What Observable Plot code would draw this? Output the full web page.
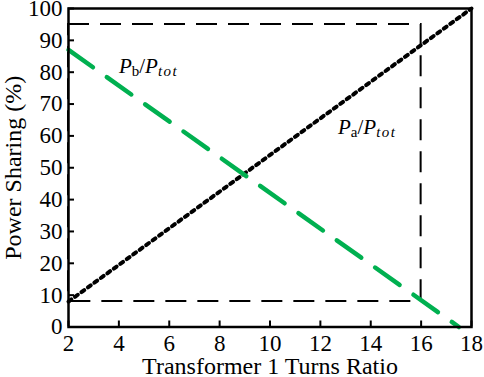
<!DOCTYPE html>
<html><head><meta charset="utf-8">
<script src="https://cdn.jsdelivr.net/npm/d3@7"></script>
<script src="https://cdn.jsdelivr.net/npm/@observablehq/plot@0.6"></script>
<style>body{margin:0;background:#fff}</style>
</head><body><div id="chart"></div>
<script>
const xTicks = [2,4,6,8,10,12,14,16,18];
const yTicks = [0,10,20,30,40,50,60,70,80,90,100];
const paX = [2, 18];
const paY = [8, 100];
const pbX = [2, 17.5];
const pbY = [87, 0];
const boxX = [2, 16];
const boxY = [8, 95];
const annX = [4, 12.7];
const annY = [79.6, 60.7];
const annLabels = ["Pb/Ptot", "Pa/Ptot"];
const annSub = ["b", "a"];

const pa = paX.map((x,i)=>({x, y: paY[i]}));
const pb = pbX.map((x,i)=>({x, y: pbY[i]}));
const ann = annX.map((x,i)=>({x, y: annY[i], t: annLabels[i], s: annSub[i]}));

const chart = Plot.plot({
  width: 484, height: 377,
  marginLeft: 68, marginRight: 13, marginTop: 8, marginBottom: 50.5,
  style: {fontFamily: "Liberation Serif", fontSize: "23px", background: "#fff", color: "#000", overflow: "visible"},
  x: {domain: [2, 18]},
  y: {domain: [0, 100]},
  marks: [
    Plot.rect([{}], {x1: boxX[0], x2: boxX[1], y1: boxY[0], y2: boxY[1], fill: "none", stroke: "#000", strokeWidth: 2, strokeDasharray: "21,11"}),
    Plot.line(pa, {x: "x", y: "y", stroke: "#000", strokeWidth: 4, strokeDasharray: "3.5,4.5"}),
    Plot.line(pb, {x: "x", y: "y", stroke: "#00b050", strokeWidth: 4.5, strokeDasharray: "30,17"}),
    Plot.frame({stroke: "#000", strokeWidth: 2.5}),
    Plot.axisX({ticks: xTicks, tickSize: -6, tickPadding: 14, strokeWidth: 2, label: null}),
    Plot.axisX({ticks: [], label: "Transformer 1 Turns Ratio", labelArrow: false, labelAnchor: "center", labelOffset: 47, fontSize: 24}),
    Plot.axisY({ticks: yTicks, tickSize: -6, tickPadding: 12, strokeWidth: 2, label: null}),
    Plot.axisY({ticks: [], label: "Power Sharing (%)", labelArrow: false, labelAnchor: "center", labelOffset: 65, fontSize: 24}),
    Plot.text(ann, {x: "x", y: "y", text: "t", textAnchor: "start", lineAnchor: "bottom", fontSize: 21})
  ]
});
document.getElementById("chart").appendChild(chart);

d3.select(chart).selectAll("text").each(function() {
  const el = d3.select(this);
  const txt = el.text();
  const i = annLabels.indexOf(txt);
  if (i < 0) return;
  el.text(null);
  el.append("tspan").attr("font-style", "italic").text("P");
  el.append("tspan").attr("font-size", 15).attr("dy", 3).text(annSub[i]);
  el.append("tspan").attr("dy", -3).text("/");
  el.append("tspan").attr("font-style", "italic").text("P");
  el.append("tspan").attr("font-style", "italic").attr("font-size", 15).attr("dy", 3).attr("letter-spacing", 1.5).text("tot");
});
</script></body></html>
